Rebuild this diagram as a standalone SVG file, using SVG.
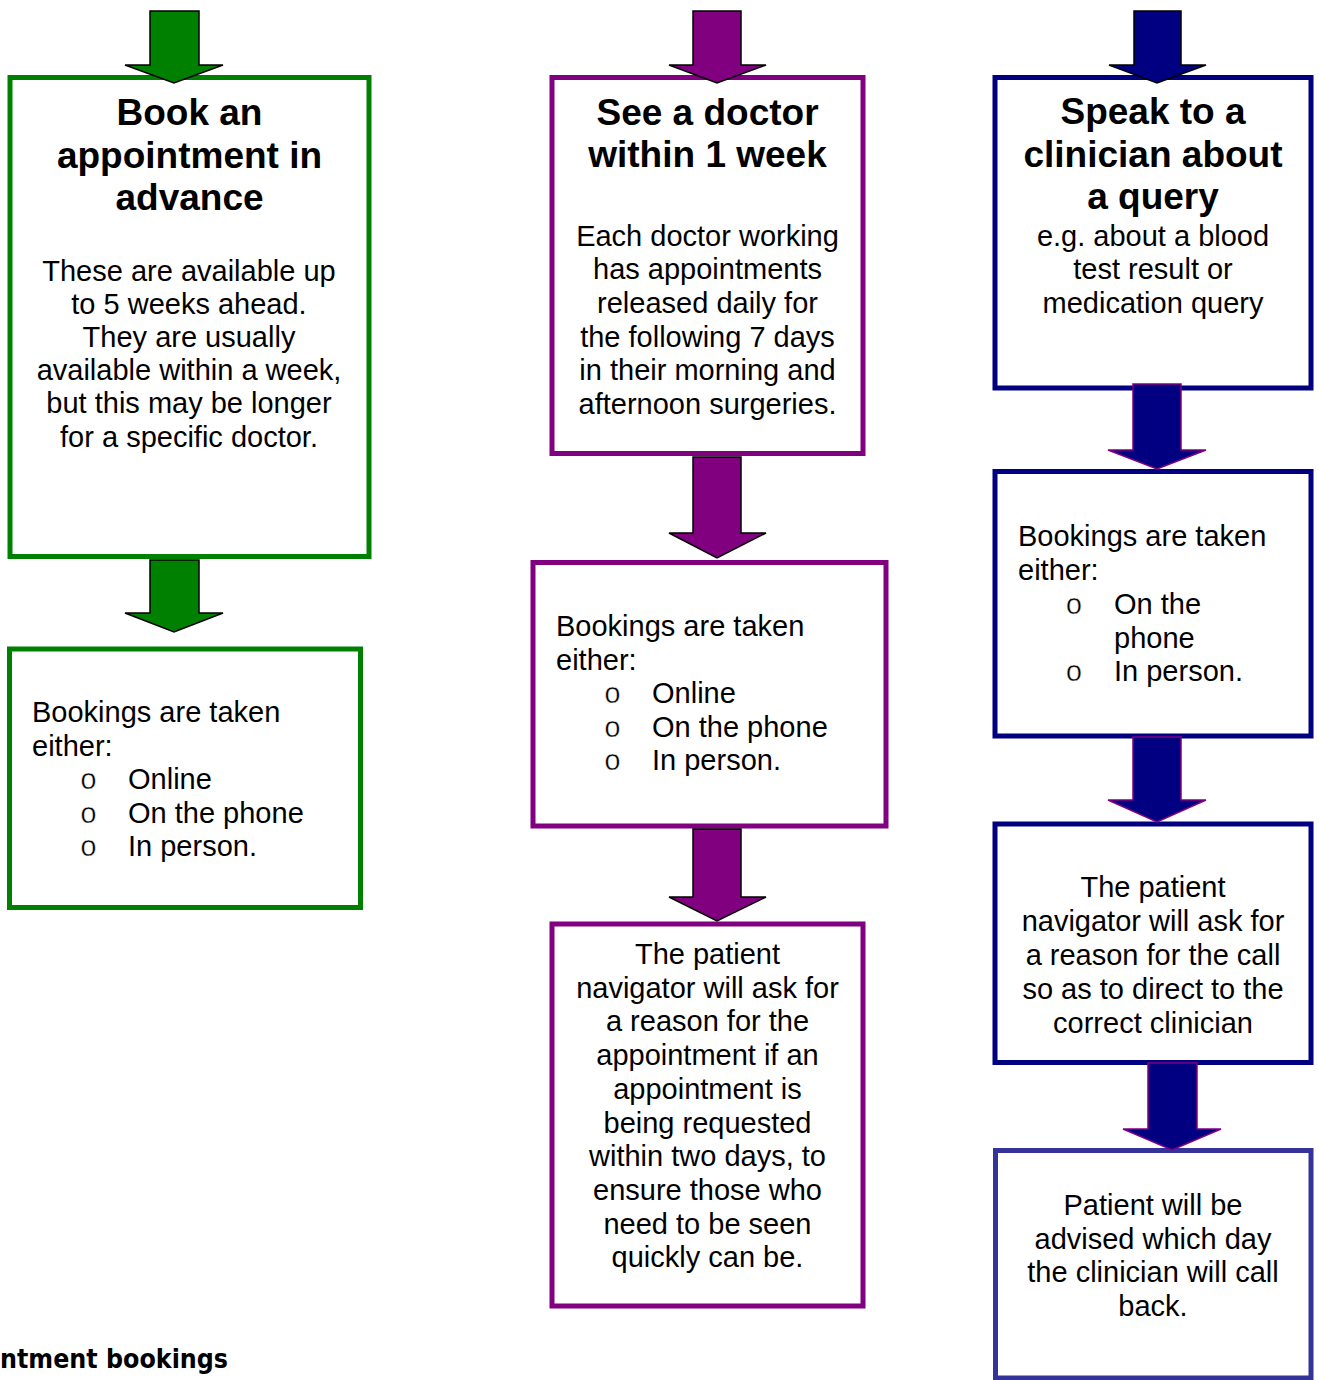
<svg xmlns="http://www.w3.org/2000/svg" width="1319" height="1380" viewBox="0 0 1319 1380">
<style>
.box{fill:#fff;stroke-width:5}
.g{stroke:#008000}
.p{stroke:#800080}
.n{stroke:#000080}
.n2{stroke:#333399}
.t{font-family:"Liberation Sans",Arial,sans-serif;font-size:37px;font-weight:bold;fill:#000;text-anchor:middle}
.b{font-family:"Liberation Sans",Arial,sans-serif;font-size:29px;fill:#000}
.c{text-anchor:middle}
.bul{font-family:"Liberation Mono","Courier New",monospace;font-size:29px;fill:#000;stroke:#fff;stroke-width:0.45;text-anchor:middle}
.ag{fill:#008000;stroke:#000;stroke-width:1.5}
.ap{fill:#800080;stroke:#000;stroke-width:1.5}
.an{fill:#000080;stroke:#000;stroke-width:1.5}
.anp{fill:#000080;stroke:#800080;stroke-width:1.5}
</style>
<rect width="1319" height="1380" fill="#fff"/>

<g id="book-advance">
<rect class="box g" x="10" y="77.5" width="359" height="479"/>
<text class="t" x="189.5" y="125">Book an</text>
<text class="t" x="189.5" y="167.5">appointment in</text>
<text class="t" x="189.5" y="210">advance</text>
<text class="b c" x="189" y="280.5">These are available up</text>
<text class="b c" x="189" y="313.7">to 5 weeks ahead.</text>
<text class="b c" x="189" y="346.9">They are usually</text>
<text class="b c" x="189" y="380.1">available within a week,</text>
<text class="b c" x="189" y="413.3">but this may be longer</text>
<text class="b c" x="189" y="446.5">for a specific doctor.</text>
</g>

<g id="book-green-bookings">
<rect class="box g" x="9.5" y="649" width="351" height="258.5"/>
<text class="b" x="32" y="722">Bookings are taken</text>
<text class="b" x="32" y="755.5">either:</text>
<text class="bul" x="88.5" y="789">o</text>
<text class="b" x="128" y="789">Online</text>
<text class="bul" x="88.5" y="822.5">o</text>
<text class="b" x="128" y="822.5">On the phone</text>
<text class="bul" x="88.5" y="856">o</text>
<text class="b" x="128" y="856">In person.</text>
</g>

<g id="see-doctor">
<rect class="box p" x="552" y="77.5" width="311" height="376"/>
<text class="t" x="707.5" y="124.5">See a doctor</text>
<text class="t" x="707.5" y="167">within 1 week</text>
<text class="b c" x="707.5" y="245.5">Each doctor working</text>
<text class="b c" x="707.5" y="279.2">has appointments</text>
<text class="b c" x="707.5" y="312.9">released daily for</text>
<text class="b c" x="707.5" y="346.6">the following 7 days</text>
<text class="b c" x="707.5" y="380.3">in their morning and</text>
<text class="b c" x="707.5" y="414">afternoon surgeries.</text>
</g>

<g id="purple-bookings">
<rect class="box p" x="533" y="562.5" width="353" height="263.5"/>
<text class="b" x="556" y="636">Bookings are taken</text>
<text class="b" x="556" y="669.5">either:</text>
<text class="bul" x="612.5" y="703">o</text>
<text class="b" x="652" y="703">Online</text>
<text class="bul" x="612.5" y="736.5">o</text>
<text class="b" x="652" y="736.5">On the phone</text>
<text class="bul" x="612.5" y="770">o</text>
<text class="b" x="652" y="770">In person.</text>
</g>

<g id="purple-navigator">
<rect class="box p" x="552" y="924" width="311" height="382"/>
<text class="b c" x="707.5" y="964">The patient</text>
<text class="b c" x="707.5" y="997.7">navigator will ask for</text>
<text class="b c" x="707.5" y="1031.4">a reason for the</text>
<text class="b c" x="707.5" y="1065.1">appointment if an</text>
<text class="b c" x="707.5" y="1098.8">appointment is</text>
<text class="b c" x="707.5" y="1132.5">being requested</text>
<text class="b c" x="707.5" y="1166.2">within two days, to</text>
<text class="b c" x="707.5" y="1199.9">ensure those who</text>
<text class="b c" x="707.5" y="1233.6">need to be seen</text>
<text class="b c" x="707.5" y="1267.3">quickly can be.</text>
</g>

<g id="speak-clinician">
<rect class="box n" x="995" y="77.5" width="316" height="310.5"/>
<text class="t" x="1153" y="124">Speak to a</text>
<text class="t" x="1153" y="166.5">clinician about</text>
<text class="t" x="1153" y="209">a query</text>
<text class="b c" x="1153" y="245.5">e.g. about a blood</text>
<text class="b c" x="1153" y="279">test result or</text>
<text class="b c" x="1153" y="312.5">medication query</text>
</g>

<g id="navy-bookings">
<rect class="box n" x="995" y="471.5" width="316" height="264.5"/>
<text class="b" x="1018" y="546">Bookings are taken</text>
<text class="b" x="1018" y="580">either:</text>
<text class="bul" x="1074" y="614">o</text>
<text class="b" x="1114" y="614">On the</text>
<text class="b" x="1114" y="647.5">phone</text>
<text class="bul" x="1074" y="681">o</text>
<text class="b" x="1114" y="681">In person.</text>
</g>

<g id="navy-navigator">
<rect class="box n" x="995" y="824" width="316" height="238.5"/>
<text class="b c" x="1153" y="897">The patient</text>
<text class="b c" x="1153" y="931">navigator will ask for</text>
<text class="b c" x="1153" y="965">a reason for the call</text>
<text class="b c" x="1153" y="999">so as to direct to the</text>
<text class="b c" x="1153" y="1033">correct clinician</text>
</g>

<g id="call-back">
<rect class="box n2" x="995.5" y="1150.5" width="315.5" height="227.5"/>
<text class="b c" x="1153" y="1215">Patient will be</text>
<text class="b c" x="1153" y="1248.7">advised which day</text>
<text class="b c" x="1153" y="1282.4">the clinician will call</text>
<text class="b c" x="1153" y="1316">back.</text>
</g>

<g id="connectors">
<polygon class="ag" points="150,11 199,11 199,65 223,65 174,83 125,65 150,65"/>
<polygon class="ag" points="150,560 199,560 199,613 223,613 174,632 125,613 150,613"/>
<polygon class="ap" points="693,11 741,11 741,65 766,65 717,83 669,65 693,65"/>
<polygon class="ap" points="693,457 741,457 741,533 766,533 717,558 669,533 693,533"/>
<polygon class="ap" points="693,829 741,829 741,897 766,897 717,921 669,897 693,897"/>
<polygon class="an" points="1134,11 1181,11 1181,65 1206,65 1157,83 1109,65 1134,65"/>
<polygon class="anp" points="1133,384 1181,384 1181,450 1206,450 1157,469 1108,450 1133,450"/>
<polygon class="anp" points="1133,737 1181,737 1181,800 1206,800 1157,822 1108,800 1133,800"/>
<polygon class="anp" points="1148,1063 1197,1063 1197,1129 1221,1129 1172,1150 1123,1129 1148,1129"/>
</g>

<text x="0" y="1368" font-family="'DejaVu Sans',Verdana,sans-serif" font-weight="bold" font-size="26" textLength="228" lengthAdjust="spacingAndGlyphs" fill="#000">ntment bookings</text>
</svg>
